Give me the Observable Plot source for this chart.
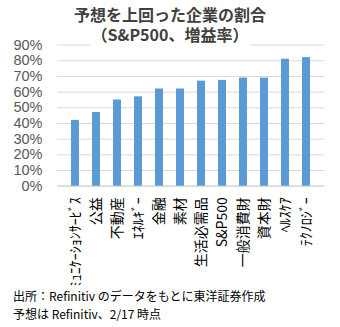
<!DOCTYPE html>
<html>
<head>
<meta charset="utf-8">
<script src="https://cdn.jsdelivr.net/npm/d3@7"></script>
<script src="https://cdn.jsdelivr.net/npm/@observablehq/plot@0.6"></script>
<style>
  html, body { margin: 0; padding: 0; background: #fff; }
  #wrap { position: relative; width: 340px; height: 327px; overflow: hidden; }
  #title { position: absolute; left: 0; top: 4px; width: 340px; text-align: center;
           font-family: "Noto Sans CJK JP", sans-serif; font-weight: bold; font-size: 16px;
           line-height: 20px; color: #404040; z-index: 2; }
  #title span { background: #fff; display: inline-block; padding: 0 2px 3px 2px; }
  #chart { position: absolute; left: 0; top: 0; height: 285px; overflow: hidden; }
  #caption { position: absolute; left: 13px; top: 287px; font-family: "Noto Sans CJK JP", sans-serif;
             font-size: 12px; line-height: 18px; color: #000; }
</style>
</head>
<body>
<div id="wrap">
  <div id="title"><div>予想を上回った企業の割合</div><span>（S&amp;P500、増益率）</span></div>
  <div id="chart"></div>
  <div id="caption"><div>出所：Refinitiv のデータをもとに東洋証券作成</div><div>予想は Refinitiv、2/17 時点</div></div>
</div>
<script>
const categories = ["ｺﾐｭﾆｹｰｼｮﾝｻｰﾋﾞｽ", "公益", "不動産", "ｴﾈﾙｷﾞｰ", "金融", "素材", "生活必需品", "S&P500", "一般消費財", "資本財", "ﾍﾙｽｹｱ", "ﾃｸﾉﾛｼﾞｰ"];
const values = [42, 47, 55, 57, 62, 62, 67, 67.5, 69, 69, 81, 82];
const yTicks = [0, 10, 20, 30, 40, 50, 60, 70, 80, 90];

const data = categories.map((c, i) => ({category: c, value: values[i]}));

const plot = Plot.plot({
  width: 340,
  height: 285,
  marginTop: 44.6,
  marginBottom: 99.3,
  marginLeft: 57,
  marginRight: 16,
  style: {fontFamily: "Liberation Sans, Arial, sans-serif", background: "#fff"},
  x: {domain: categories, padding: 0.63, label: null},
  y: {domain: [0, 90], label: null},
  marks: [
    Plot.gridY(yTicks, {stroke: "#d9d9d9", strokeOpacity: 1, strokeWidth: 1}),
    Plot.ruleY([0], {stroke: "#d9d9d9", strokeWidth: 1.5}),
    Plot.barY(data, {x: "category", y: "value", fill: "#5b9bd5"}),
    Plot.axisY(yTicks, {tickSize: 0, tickPadding: 15, tickFormat: d => d + "%", fontSize: 14.5, fill: "#595959", label: null}),
    Plot.axisX({tickSize: 0, tickPadding: 11, tickRotate: -90, fontSize: 14, fontFamily: "Noto Sans CJK JP", fill: "#000", label: null, textOverflow: null, lineWidth: Infinity})
  ]
});
document.getElementById("chart").appendChild(plot);
</script>
</body>
</html>
